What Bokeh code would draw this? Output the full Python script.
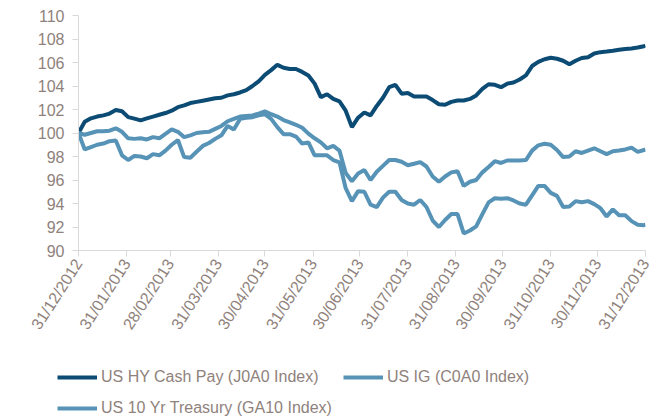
import pandas as pd
from bokeh.plotting import figure
from bokeh.layouts import column
from bokeh.models import Range1d, FixedTicker, DatetimeTickFormatter, Legend, LegendItem
from bokeh.embed import file_html
from bokeh.resources import INLINE

# ---- data ----
dates = list(pd.date_range("2012-12-31", periods=92, freq="4D")) + [pd.Timestamp("2013-12-31")]

us_hy = [100.0, 100.95, 101.25, 101.4, 101.5, 101.65, 101.95, 101.85, 101.35, 101.22,
         101.08, 101.25, 101.4, 101.55, 101.7, 101.9, 102.2, 102.35, 102.55, 102.65,
         102.75, 102.85, 102.95, 103.0, 103.2, 103.3, 103.45, 103.65, 104.0, 104.4,
         104.95, 105.35, 105.8, 105.55, 105.45, 105.45, 105.2, 104.9, 104.2, 103.05,
         103.3, 102.9, 102.7, 101.9, 100.5, 101.3, 101.75, 101.5, 102.3, 103.0,
         103.9, 104.1, 103.35, 103.4, 103.1, 103.1, 103.1, 102.8, 102.45, 102.4,
         102.65, 102.77, 102.77, 102.9, 103.2, 103.75, 104.15, 104.1, 103.9, 104.2,
         104.3, 104.55, 104.9, 105.7, 106.05, 106.28, 106.4, 106.32, 106.15, 105.85,
         106.15, 106.38, 106.45, 106.77, 106.88, 106.93, 107.0, 107.08, 107.15, 107.2,
         107.27, 107.38, 107.45]

us_ig = [100.0, 99.85, 100.0, 100.15, 100.15, 100.2, 100.4, 100.1, 99.55, 99.5,
         99.55, 99.45, 99.65, 99.55, 99.93, 100.3, 100.1, 99.65, 99.8, 100.0,
         100.07, 100.1, 100.35, 100.6, 101.0, 101.2, 101.4, 101.45, 101.5, 101.65,
         101.85, 101.6, 101.4, 101.1, 100.9, 100.7, 100.45, 99.95, 99.55, 99.2,
         98.7, 98.9, 98.5, 96.6, 95.9, 96.55, 96.85, 96.0, 96.7, 97.2,
         97.7, 97.7, 97.55, 97.25, 97.38, 97.52, 97.15, 96.3, 95.85, 96.3,
         96.65, 96.75, 95.5, 95.85, 96.0, 96.65, 97.1, 97.6, 97.45, 97.66,
         97.66, 97.66, 97.7, 98.5, 98.95, 99.08, 99.0, 98.55, 97.95, 98.0,
         98.45, 98.3, 98.5, 98.7, 98.45, 98.2, 98.45, 98.51, 98.6, 98.75,
         98.4, 98.55, 98.6]

us_10y = [100.0, 98.6, 98.8, 99.0, 99.1, 99.3, 99.36, 98.1, 97.7, 98.05,
          98.0, 97.85, 98.2, 98.1, 98.5, 99.0, 99.4, 97.95, 97.9, 98.4,
          98.9, 99.15, 99.5, 99.8, 100.6, 100.3, 101.2, 101.3, 101.35, 101.5,
          101.6, 101.2, 100.5, 99.9, 99.9, 99.7, 99.1, 99.2, 98.1, 98.1,
          98.1, 97.7, 97.5, 95.3, 94.2, 95.05, 95.0, 93.9, 93.7, 94.5,
          95.0, 95.0, 94.3, 94.0, 93.9, 94.3, 93.7, 92.55, 92.0, 92.6,
          93.1, 93.1, 91.45, 91.7, 92.05, 93.1, 94.1, 94.45, 94.4, 94.45,
          94.26, 94.0, 93.9, 94.7, 95.5, 95.5, 94.9, 94.65, 93.7, 93.75,
          94.2, 94.1, 94.2, 93.95, 93.6, 92.9, 93.5, 93.0, 93.0, 92.5,
          92.2, 92.15, 92.2]

series_names = ["US HY Cash Pay (J0A0 Index)", "US IG (C0A0 Index)", "US 10 Yr Treasury (GA10 Index)"]
y_ticks = [90, 92, 94, 96, 98, 100, 102, 104, 106, 108, 110]
x_ticks = ["2012-12-31", "2013-01-31", "2013-02-28", "2013-03-31", "2013-04-30", "2013-05-31",
           "2013-06-30", "2013-07-31", "2013-08-31", "2013-09-30", "2013-10-31", "2013-11-30",
           "2013-12-31"]

# ---- styling ----
DARK = "#0B4B74"
LIGHT = "#5693B6"
TXT = "#8F827C"
AX = "#D9D9D9"
FONT = "Liberation Sans"

x_rng = (pd.Timestamp("2012-12-31"), pd.Timestamp("2013-12-31"))

p = figure(width=657, height=340, output_backend="svg", toolbar_location=None,
           x_axis_type="datetime", x_range=Range1d(*x_rng), y_range=Range1d(90, 110),
           min_border_left=78, min_border_right=12, min_border_top=15, min_border_bottom=89)
p.frame_align = False
p.outline_line_color = None
p.xgrid.visible = False
p.ygrid.visible = False

p.line(dates, us_hy, line_color=DARK, line_width=4)
p.line(dates, us_ig, line_color=LIGHT, line_width=4)
p.line(dates, us_10y, line_color=LIGHT, line_width=4)

tick_ms = [pd.Timestamp(d).value / 1e6 for d in x_ticks]
p.xaxis.ticker = FixedTicker(ticks=tick_ms)
fmt = "%d/%m/%Y"
p.xaxis.formatter = DatetimeTickFormatter(milliseconds=fmt, seconds=fmt, minsec=fmt, minutes=fmt,
                                          hourmin=fmt, hours=fmt, days=fmt, months=fmt, years=fmt)
p.yaxis.ticker = FixedTicker(ticks=y_ticks)

for ax in (p.xaxis[0], p.yaxis[0]):
    ax.axis_line_color = AX
    ax.major_tick_line_color = AX
    ax.minor_tick_line_color = None
    ax.major_tick_in = 0
    ax.major_tick_out = 6
    ax.major_label_text_font = FONT
    ax.major_label_text_font_size = "16px"
    ax.major_label_text_color = TXT

p.yaxis.major_label_standoff = 8
p.xaxis.major_label_standoff = 4
p.xaxis.major_label_orientation = 1.0

# ---- legend strip below the chart (series drawn outside its visible range) ----
lg = figure(width=657, height=79, output_backend="svg", toolbar_location=None,
            x_axis_type="datetime", x_range=Range1d(*x_rng), y_range=Range1d(0, 1),
            x_axis_location=None, y_axis_location=None,
            min_border_left=0, min_border_right=0, min_border_top=0, min_border_bottom=0)
lg.frame_align = False
lg.outline_line_color = None
lg.xgrid.visible = False
lg.ygrid.visible = False
l_hy = lg.line(dates, us_hy, line_color=DARK, line_width=4)
l_ig = lg.line(dates, us_ig, line_color=LIGHT, line_width=4)
l_ty = lg.line(dates, us_10y, line_color=LIGHT, line_width=4)

legend = Legend(items=[LegendItem(label=series_names[0], renderers=[l_hy]),
                       LegendItem(label=series_names[1], renderers=[l_ig]),
                       LegendItem(label=series_names[2], renderers=[l_ty])],
                location=(57, 1), ncols=2, orientation="horizontal",
                padding=0, margin=0, spacing=11, glyph_width=40, glyph_height=20,
                label_height=20, label_standoff=4,
                label_text_font=FONT, label_text_font_size="16px", label_text_color=TXT,
                border_line_alpha=0, background_fill_alpha=0)
lg.add_layout(legend, "center")

open("out.html", "w").write(file_html(column(p, lg, spacing=0), INLINE))
